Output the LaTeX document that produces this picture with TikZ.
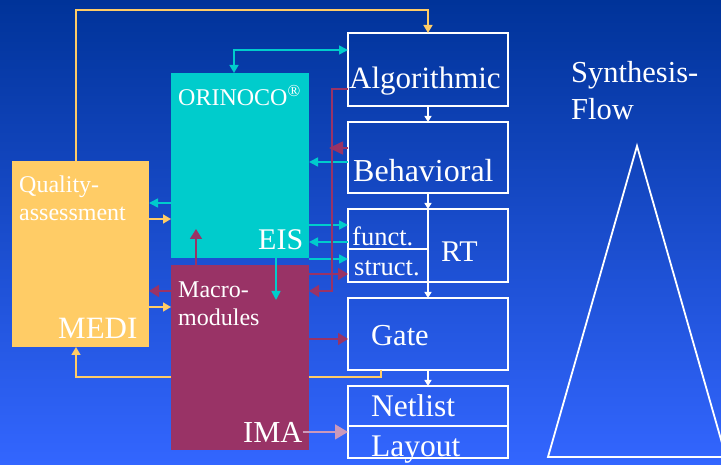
\documentclass[tikz,border=0pt]{standalone}
\usepackage{fontspec}
\setmainfont{Liberation Serif}
\usetikzlibrary{arrows.meta}
\definecolor{bgtop}{RGB}{0,51,153}
\definecolor{bgbot}{RGB}{51,102,255}
\definecolor{cyanbox}{RGB}{0,204,204}
\definecolor{maroonbox}{RGB}{153,51,102}
\definecolor{yellowbox}{RGB}{255,204,102}
\definecolor{imaarrow}{RGB}{204,153,187}
\begin{document}
\begin{tikzpicture}[x=1pt,y=-1pt,
  wbox/.style={draw=white,line width=1.6pt,anchor=north west,inner sep=0pt,outer sep=0pt},
  fbox/.style={anchor=north west,inner sep=0pt,outer sep=0pt,draw=none},
  lbl/.style={text=white,anchor=base west,inner sep=0pt},
  fs/.style={font=\fontsize{#1}{36}\selectfont},
  small/.style={lbl,font=\fontsize{24}{28}\selectfont},
  mid/.style={lbl,font=\fontsize{26.5}{28}\selectfont},
  flowarrow/.style={draw=white,line width=1.4pt,-{Triangle[length=6pt,width=7pt]}},
  cyanline/.style={draw=cyanbox,line width=1.6pt},
  cyanarrow/.style={cyanline,-{Triangle[length=9pt,width=9pt]}},
  yellowarrow/.style={draw=yellowbox,line width=1.6pt,-{Triangle[length=8pt,width=9pt]}},
  maroonarrow/.style={draw=maroonbox,line width=1.6pt,-{Triangle[length=10pt,width=12pt]}},
  imastyle/.style={draw=imaarrow,line width=1.6pt,-{Triangle[length=13pt,width=15pt]}}
]
\useasboundingbox (0,0) rectangle (721,465);
\clip (0,0) rectangle (721,465);
\shade[top color=bgtop,bottom color=bgbot] (0,0) rectangle (721,465);

% flow boxes
\node[wbox,minimum width=160pt,minimum height=73pt] (alg) at (348,33) {};
\node[wbox,minimum width=160pt,minimum height=71pt] (beh) at (348,122) {};
\node[wbox,minimum width=160pt,minimum height=73pt] (rt) at (348,209) {};
\node[wbox,minimum width=80pt,minimum height=40pt] (funct) at (348,209) {};
\node[wbox,minimum width=80pt,minimum height=33pt] (struct) at (348,249) {};
\node[wbox,minimum width=160pt,minimum height=72pt] (gate) at (348,298) {};
\node[wbox,minimum width=160pt,minimum height=40pt] (net) at (348,386) {};
\node[wbox,minimum width=160pt,minimum height=32pt] (lay) at (348,426) {};

% lane coordinates
\coordinate (ytopC) at (76,10);
\coordinate (ybotC) at (76,377);
\coordinate (ygateC) at (381,377);
\coordinate (cyTopC) at (234,50);
\coordinate (cyBehY) at (0,162);
\coordinate (cyF1Y) at (0,225);
\coordinate (cyF2Y) at (0,242);
\coordinate (cyF3Y) at (0,259);
\coordinate (cyDownC) at (276,300);
\coordinate (cyMediY) at (0,203);
\coordinate (yOriY) at (0,219);
\coordinate (yMacY) at (0,307);
\coordinate (mAlgY) at (0,89);
\coordinate (mBusC) at (332,291);
\coordinate (mBehY) at (0,148);
\coordinate (mStY) at (0,274);
\coordinate (mGateY) at (0,339);
\coordinate (mUpC) at (196,229);
\coordinate (mMediY) at (0,291);
\coordinate (mediS) at (80,347);

% bottom yellow feedback (behind the macromodule box)
\draw[yellowarrow] (ygateC |- gate.south) -- (ygateC) -- (ybotC) -- (ybotC |- mediS);

% tool boxes
\node[fbox,fill=cyanbox,minimum width=138pt,minimum height=185pt] (orinoco) at (171,73) {};
\node[fbox,fill=maroonbox,minimum width=138pt,minimum height=185pt] (macro) at (171,265) {};
\node[fbox,fill=yellowbox,minimum width=137pt,minimum height=186pt] (medi) at (12,161) {};

% texts
\node[lbl,fs=31] (algT) at (349,89) {Algorithmic};
\node[lbl,fs=32] (behT) at (353,182) {Behavioral};
\node[mid] (functT) at (352,246) {funct.};
\node[mid] (structT) at (354,276) {struct.};
\node[lbl,fs=30] (rtT) at (441,262) {RT};
\node[lbl,fs=30.5] (gateT) at (371,346) {Gate};
\node[lbl,fs=31.5] (netT) at (371,417) {Netlist};
\node[lbl,fs=31.5] (layT) at (371,456) {Layout};
\node[small] (oriT) at (178,106) {ORINOCO\textsuperscript{®}};
\node[lbl,fs=30] (eisT) at (258,250) {EIS};
\node[small] (qualT) at (19,193) {Quality-};
\node[small] (assT) at (19,221) {assessment};
\node[lbl,fs=31] (mediT) at (58,338) {MEDI};
\node[small] (macT) at (178,298) {Macro-};
\node[small] (modT) at (178,326) {modules};
\node[lbl,fs=30.5] (imaT) at (243,442) {IMA};
\node[lbl,fs=30.5] (synT) at (571,83) {Synthesis-};
\node[lbl,fs=30.5] (flowT) at (571,120) {Flow};

% synthesis triangle
\draw[white,line width=1.8pt,line join=miter] (637,146) -- (548,457) -- (726,457) -- cycle;

% flow arrows
\draw[flowarrow] (alg.south) -- (beh.north);
\draw[flowarrow] (beh.south) -- (rt.north);
\draw[flowarrow] (rt.south) -- (gate.north);
\draw[flowarrow] (gate.south) -- (net.north);

% yellow connectors
\draw[yellowarrow] (ytopC |- medi.north) -- (ytopC) -| (alg.north);
\draw[yellowarrow] (medi.east |- yOriY) -- (orinoco.west |- yOriY);
\draw[yellowarrow] (medi.east |- yMacY) -- (macro.west |- yMacY);

% cyan connectors
\draw[cyanline,{Triangle[length=8pt,width=9pt]}-{Triangle[length=9pt,width=9pt]}] (cyTopC |- orinoco.north) -- (cyTopC) -- (cyTopC -| alg.west);
\draw[cyanarrow] (beh.west |- cyBehY) -- (orinoco.east |- cyBehY);
\draw[cyanarrow] (orinoco.east |- cyF1Y) -- (funct.west |- cyF1Y);
\draw[cyanarrow] (funct.west |- cyF2Y) -- (orinoco.east |- cyF2Y);
\draw[cyanarrow] (orinoco.east |- cyF3Y) -- (struct.west |- cyF3Y);
\draw[cyanarrow] (cyDownC |- orinoco.south) -- (cyDownC);
\draw[cyanarrow] (orinoco.west |- cyMediY) -- (medi.east |- cyMediY);

% maroon connectors
\draw[maroonarrow] (alg.west |- mAlgY) -| (mBusC) -- (macro.east |- mBusC);
\draw[maroonarrow,-{Triangle[length=14pt,width=13pt]}] (beh.west |- mBehY) -- ([xshift=-3pt]mBusC |- mBehY);
\draw[maroonarrow] (macro.east |- mStY) -- (struct.west |- mStY);
\draw[maroonarrow] (macro.east |- mGateY) -- (gate.west |- mGateY);
\draw[maroonarrow] (mUpC |- macro.north) -- (mUpC);
\draw[maroonarrow] (macro.west |- mMediY) -- (medi.east |- mMediY);

% IMA connector
\draw[imastyle] (imaT.east) -- (imaT.east -| net.west);
\end{tikzpicture}
\end{document}
